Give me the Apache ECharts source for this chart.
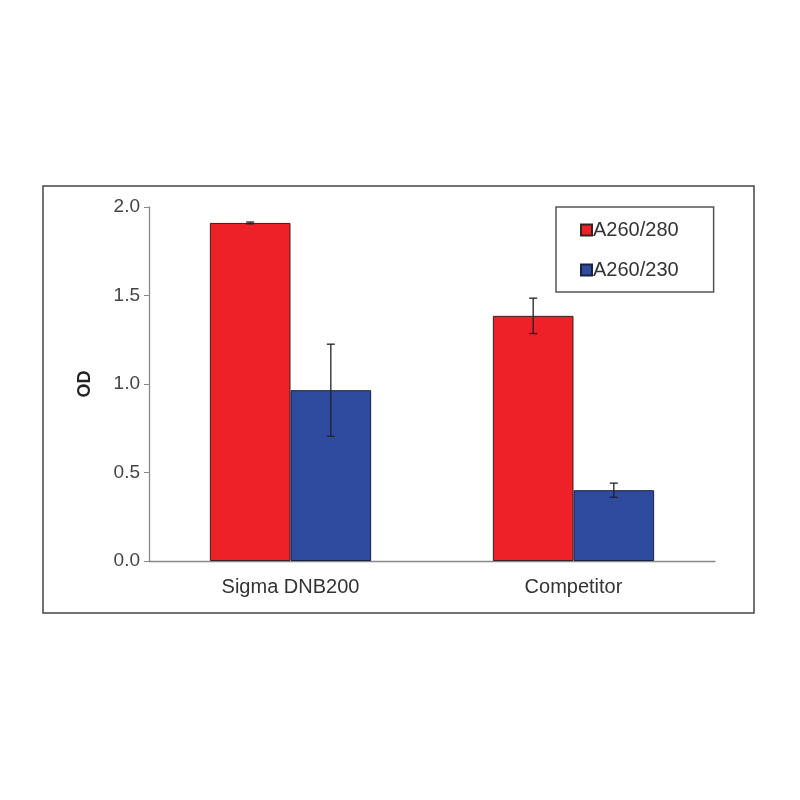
<!DOCTYPE html>
<html><head><meta charset="utf-8">
<script src="https://cdn.jsdelivr.net/npm/echarts@6/dist/echarts.min.js"></script>
<style>html,body{margin:0;padding:0;background:#fff}#c{width:800px;height:800px}</style>
</head><body><div id="c"></div>
<script>
var categories = ['Sigma DNB200', 'Competitor'];
var seriesNames = ['A260/280', 'A260/230'];
var a280 = [1.91, 1.385];
var a230 = [0.965, 0.40];
var a280Err = [0.005, 0.10];
var a230Err = [0.26, 0.04];
var yTicks = [0, 0.5, 1.0, 1.5, 2.0];

var chart = echarts.init(document.getElementById('c'));
var CAT_GAP = 0.43;
function errSeries(vals, errs, idx, color) {
  var data = vals.map(function (v, i) { return [i, v - errs[i], v + errs[i]]; });
  return {
    type: 'custom', name: seriesNames[idx] + ' err', z: 10, silent: true,
    renderItem: function (params, api) {
      var band = api.size([1, 0])[0];
      var bw = band * (1 - CAT_GAP) / 2;
      var off = (idx === 0 ? -1 : 1) * bw / 2;
      var lo = api.coord([api.value(0), api.value(1)]);
      var hi = api.coord([api.value(0), api.value(2)]);
      var x = lo[0] + off, cap = 4;
      var st = { stroke: color, lineWidth: 1.3 };
      return { type: 'group', children: [
        { type: 'line', shape: { x1: x, y1: lo[1], x2: x, y2: hi[1] }, style: st },
        { type: 'line', shape: { x1: x - cap, y1: hi[1], x2: x + cap, y2: hi[1] }, style: st },
        { type: 'line', shape: { x1: x - cap, y1: lo[1], x2: x + cap, y2: lo[1] }, style: st }
      ]};
    },
    encode: { x: 0, y: [1, 2] },
    data: data
  };
}

chart.setOption({
  animation: false,
  textStyle: { fontFamily: 'Liberation Sans, Arial, sans-serif' },
  graphic: [{ type: 'rect', shape: { x: 43, y: 186, width: 711, height: 427 },
    style: { fill: 'none', stroke: '#444', lineWidth: 1.5 }, z: -1 }],
  grid: { left: 149, right: 85, top: 207, bottom: 239 },
  legend: {
    data: seriesNames, orient: 'vertical', left: 556, top: 207,
    borderColor: '#555', borderWidth: 1.5, padding: [13, 35, 12, 24],
    itemGap: 20, itemWidth: 11, itemHeight: 11, icon: 'rect',
    textStyle: { fontSize: 20, color: '#333', padding: [0, 0, 0, -4] }
  },
  xAxis: {
    type: 'category', data: categories,
    axisLine: { lineStyle: { color: '#888', width: 1.3 } },
    axisTick: { show: false },
    axisLabel: { fontSize: 20, color: '#333', margin: 16 }
  },
  yAxis: {
    type: 'value', min: 0, max: 2, interval: 0.5,
    name: 'OD', nameLocation: 'middle', nameGap: 55, nameRotate: 90,
    nameTextStyle: { fontSize: 18, fontWeight: 'bold', color: '#222' },
    axisLine: { show: true, lineStyle: { color: '#888', width: 1.3 } },
    axisTick: { show: true, length: 5, lineStyle: { color: '#888' } },
    splitLine: { show: false },
    axisLabel: { fontSize: 19, color: '#444', margin: 9,
      formatter: function (v) { return v.toFixed(1); } }
  },
  series: [
    { type: 'bar', name: seriesNames[0], data: a280, barGap: '0%', barCategoryGap: '43%',
      itemStyle: { color: '#EE2028', borderColor: '#3a2020', borderWidth: 1 } },
    { type: 'bar', name: seriesNames[1], data: a230,
      itemStyle: { color: '#2F4BA0', borderColor: '#1a2040', borderWidth: 1 } },
    errSeries(a280, a280Err, 0, '#222'),
    errSeries(a230, a230Err, 1, '#222')
  ]
});
</script></body></html>
